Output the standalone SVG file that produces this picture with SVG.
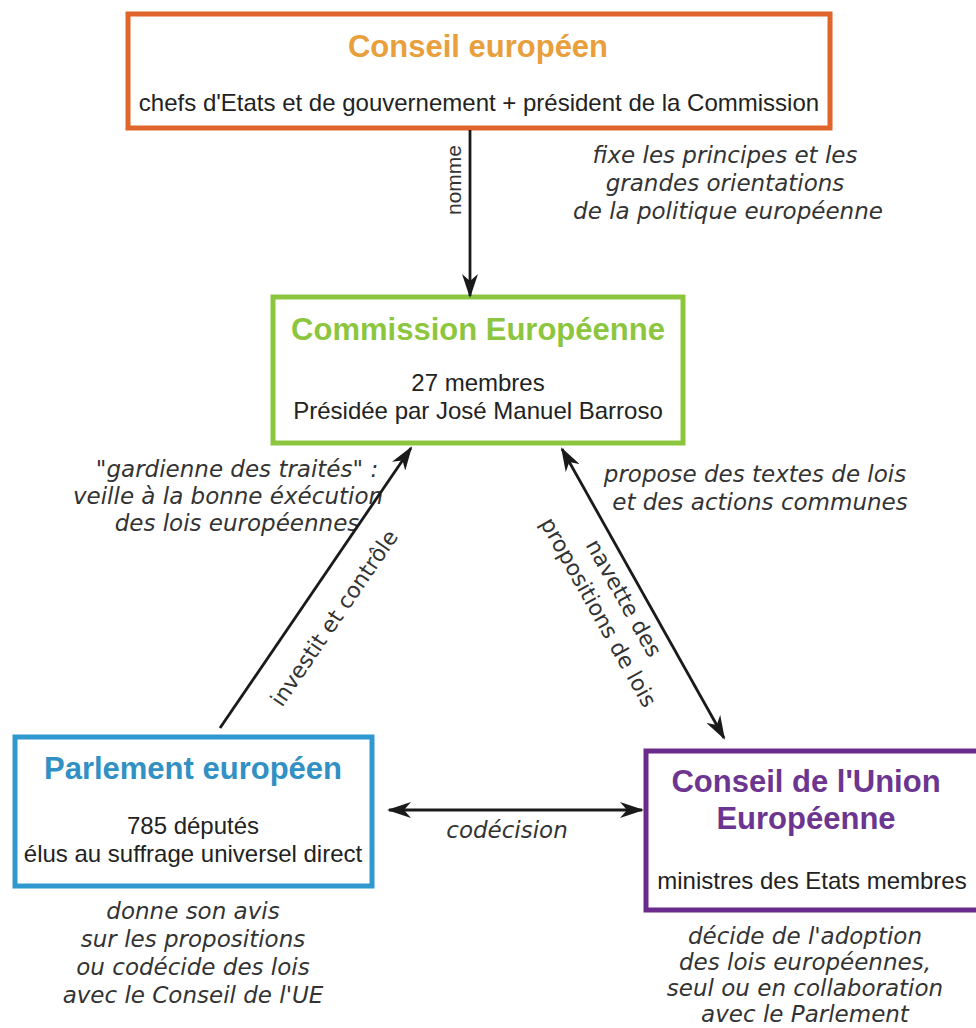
<svg xmlns="http://www.w3.org/2000/svg" width="976" height="1028" viewBox="0 0 976 1028">
<defs>
<style>
.box{fill:#ffffff;stroke-width:5}
.title{font-family:"Liberation Sans",Arial,sans-serif;font-weight:bold;font-size:31px;text-anchor:middle}
.body{font-family:"Liberation Sans",Arial,sans-serif;font-size:24px;fill:#222;text-anchor:middle}
.it{font-family:"DejaVu Sans",Verdana,sans-serif;font-style:italic;font-size:23px;fill:#333;text-anchor:middle}
.rot{font-family:"DejaVu Sans",Verdana,sans-serif;font-size:22px;fill:#333;text-anchor:middle}
.lbl{font-family:"Liberation Sans",Arial,sans-serif;font-size:21px;fill:#333;text-anchor:middle}
.conn{stroke:#1a1a1a;stroke-width:2.8;fill:none}
</style>
<marker id="ah" viewBox="0 0 24 16" refX="22" refY="8" markerWidth="24" markerHeight="16" markerUnits="userSpaceOnUse" orient="auto-start-reverse">
<path d="M0,0 L24,8 L0,16 L7,8 Z" fill="#1a1a1a"/>
</marker>
</defs>
<rect width="976" height="1028" fill="#ffffff"/>

<g id="conseil-europeen">
<rect class="box" x="128" y="14" width="702" height="114" stroke="#e0652a"/>
<text class="title" x="478" y="57" fill="#e89f3c">Conseil européen</text>
<text class="body" x="479" y="111">chefs d'Etats et de gouvernement + président de la Commission</text>
<text class="it"><tspan x="725" y="163">fixe les principes et les</tspan><tspan x="725" y="191">grandes orientations</tspan><tspan x="728" y="219">de la politique européenne</tspan></text>
</g>

<g id="commission">
<rect class="box" x="273" y="297" width="410" height="146" stroke="#8cc63f"/>
<text class="title" x="478" y="340" fill="#8cc63f">Commission Européenne</text>
<text class="body" x="478" y="391">27 membres</text>
<text class="body" x="478" y="419">Présidée par José Manuel Barroso</text>
<text class="it"><tspan x="237" y="477">"gardienne des traités" :</tspan><tspan x="228" y="504">veille à la bonne éxécution</tspan><tspan x="237" y="531">des lois européennes</tspan></text>
<text class="it"><tspan x="755" y="482">propose des textes de lois</tspan><tspan x="760" y="510">et des actions communes</tspan></text>
</g>

<g id="parlement">
<rect class="box" x="15" y="737" width="357" height="149" stroke="#2e98cf"/>
<text class="title" x="193" y="779" fill="#3190c4">Parlement européen</text>
<text class="body" x="193" y="834">785 députés</text>
<text class="body" x="193" y="862">élus au suffrage universel direct</text>
<text class="it"><tspan x="193" y="919">donne son avis</tspan><tspan x="193" y="947">sur les propositions</tspan><tspan x="193" y="975">ou codécide des lois</tspan><tspan x="193" y="1003">avec le Conseil de l'UE</tspan></text>
</g>

<g id="conseil-ue">
<path class="box" d="M980,751 L646,751 L646,910 L980,910" stroke="#6a2b8c"/>
<text class="title" x="806" y="792" fill="#6b3590">Conseil de l'Union</text>
<text class="title" x="806" y="829" fill="#6b3590">Européenne</text>
<text class="body" x="812" y="889">ministres des Etats membres</text>
<text class="it"><tspan x="805" y="944">décide de l'adoption</tspan><tspan x="805" y="970">des lois européennes,</tspan><tspan x="805" y="996">seul ou en collaboration</tspan><tspan x="805" y="1022">avec le Parlement</tspan></text>
</g>

<g id="connectors">
<line class="conn" x1="470" y1="130" x2="470" y2="296" marker-end="url(#ah)"/>
<text class="lbl" transform="translate(454,180) rotate(-90)" dy="0.35em">nomme</text>
<line class="conn" x1="220" y1="728" x2="411" y2="448" marker-end="url(#ah)"/>
<text class="rot" transform="translate(334,618) rotate(-55.7)" dy="0.35em">investit et contrôle</text>
<line class="conn" x1="562" y1="449" x2="724" y2="738" marker-start="url(#ah)" marker-end="url(#ah)"/>
<g transform="translate(624,598) rotate(60.7)"><text class="rot" x="0" y="0" dy="0.35em">navette des</text><text class="rot" x="0" y="29" dy="0.35em">propositions de lois</text></g>
<line class="conn" x1="389" y1="810" x2="642" y2="810" marker-start="url(#ah)" marker-end="url(#ah)"/>
<text class="it" x="507" y="838">codécision</text>
</g>
</svg>
